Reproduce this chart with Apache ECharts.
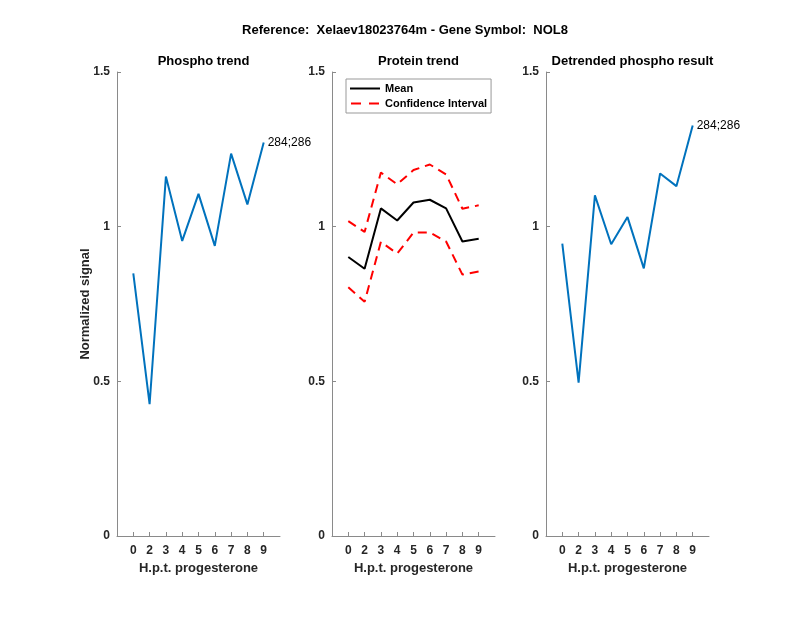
<!DOCTYPE html>
<html>
<head>
<meta charset="utf-8">
<script src="https://cdn.jsdelivr.net/npm/echarts@6/dist/echarts.min.js"></script>
<style>html,body{margin:0;padding:0;background:#fff;}#c{width:800px;height:618px;}</style>
</head>
<body>
<div id="c"></div>
<script>
const hpt = ['0','2','3','4','5','6','7','8','9'];
const phospho = [0.849,0.426,1.162,0.954,1.106,0.938,1.236,1.072,1.272];
const proteinMean = [0.902,0.864,1.059,1.020,1.078,1.087,1.059,0.952,0.961];
const ciUpper = [1.018,0.983,1.175,1.137,1.183,1.201,1.169,1.058,1.069];
const ciLower = [0.804,0.757,0.951,0.913,0.981,0.981,0.952,0.845,0.855];
const detrended = [0.945,0.496,1.101,0.943,1.031,0.865,1.172,1.131,1.327];
const siteLabel = '284;286';
const mainTitle = 'Reference:  Xelaev18023764m - Gene Symbol:  NOL8';
const panelTitles = ['Phospho trend','Protein trend','Detrended phospho result'];
const xName = 'H.p.t. progesterone';
const yName = 'Normalized signal';

const FONT = '"Liberation Sans", Arial, Helvetica, sans-serif';
const TXT = '#262626';
const AX = '#8a8a8a';
const pos = hpt.map((_, i) => i + 1);
const toXY = arr => arr.map((v, i) => [i + 1, v]);

const lefts = [117, 332, 546];
const W = 163;
const grids = lefts.map(l => ({left: l, width: W, top: 72, height: 464}));

const xAxes = lefts.map((l, i) => ({
  gridIndex: i, type: 'value', min: 0, max: 10,
  name: xName, nameLocation: 'middle', nameGap: 26,
  nameTextStyle: {fontFamily: FONT, fontWeight: 'bold', fontSize: 13, color: TXT},
  axisLine: {show: true, lineStyle: {color: AX, width: 1}},
  axisTick: {show: true, inside: true, length: 4, customValues: pos, lineStyle: {color: AX}},
  axisLabel: {customValues: pos, formatter: v => hpt[Math.round(v) - 1] || '', margin: 9,
    fontFamily: FONT, fontWeight: 'bold', fontSize: 12, color: TXT},
  splitLine: {show: false}
}));

const yAxes = lefts.map((l, i) => ({
  gridIndex: i, type: 'value', min: 0, max: 1.5, interval: 0.5,
  name: i === 0 ? yName : '', nameLocation: 'middle', nameGap: 25, nameMoveOverlap: false,
  nameTextStyle: {fontFamily: FONT, fontWeight: 'bold', fontSize: 13, color: TXT},
  axisLine: {show: true, lineStyle: {color: AX, width: 1}},
  axisTick: {show: true, inside: true, length: 4, lineStyle: {color: AX}},
  axisLabel: {margin: 7, fontFamily: FONT, fontWeight: 'bold', fontSize: 12, color: TXT},
  splitLine: {show: false}
}));

const endLabel = {show: true, formatter: siteLabel, distance: 4,
  fontFamily: FONT, fontSize: 12, color: '#000'};

const option = {
  backgroundColor: '#fff',
  animation: false,
  title: [
    {text: mainTitle, left: 400, top: 19, textAlign: 'center',
     textStyle: {fontFamily: FONT, fontWeight: 'bold', fontSize: 13, color: '#000'}},
    ...panelTitles.map((t, i) => ({text: t, left: lefts[i] + W / 2, top: 50, textAlign: 'center',
     textStyle: {fontFamily: FONT, fontWeight: 'bold', fontSize: 13, color: '#000'}}))
  ],
  legend: {
    left: 346, top: 79, orient: 'vertical',
    data: [
      {name: 'Mean', icon: 'path://M0,0h30v2h-30z'},
      {name: 'Confidence Interval', icon: 'path://M0,0h10v2h-10z M18,0h10v2h-10z'}
    ],
    itemWidth: 30, itemHeight: 2, itemGap: 4,
    padding: [4, 4, 4, 4],
    borderColor: '#999', borderWidth: 1, backgroundColor: '#fff',
    textStyle: {fontFamily: FONT, fontWeight: 'bold', fontSize: 11, color: '#000', padding: [1, 0, 0, 0]}
  },
  grid: grids,
  xAxis: xAxes,
  yAxis: yAxes,
  series: [
    {name: 'phospho', type: 'line', xAxisIndex: 0, yAxisIndex: 0, data: toXY(phospho),
     symbol: 'none', lineStyle: {color: '#0072BD', width: 2}, itemStyle: {color: '#0072BD'}, endLabel: endLabel},
    {name: 'Mean', type: 'line', xAxisIndex: 1, yAxisIndex: 1, data: toXY(proteinMean), z: 3,
     symbol: 'none', lineStyle: {color: '#000', width: 2}, itemStyle: {color: '#000'}},
    {name: 'Confidence Interval', type: 'line', xAxisIndex: 1, yAxisIndex: 1, data: toXY(ciUpper),
     symbol: 'none', lineStyle: {color: '#ff0000', width: 2, type: [9, 6]}, itemStyle: {color: '#ff0000'}},
    {name: 'Confidence Interval', type: 'line', xAxisIndex: 1, yAxisIndex: 1, data: toXY(ciLower),
     symbol: 'none', lineStyle: {color: '#ff0000', width: 2, type: [9, 6]}, itemStyle: {color: '#ff0000'}},
    {name: 'detrended', type: 'line', xAxisIndex: 2, yAxisIndex: 2, data: toXY(detrended),
     symbol: 'none', lineStyle: {color: '#0072BD', width: 2}, itemStyle: {color: '#0072BD'}, endLabel: endLabel}
  ]
};
const chart = echarts.init(document.getElementById('c'), null, {renderer: 'canvas'});
chart.setOption(option);
</script>
</body>
</html>
